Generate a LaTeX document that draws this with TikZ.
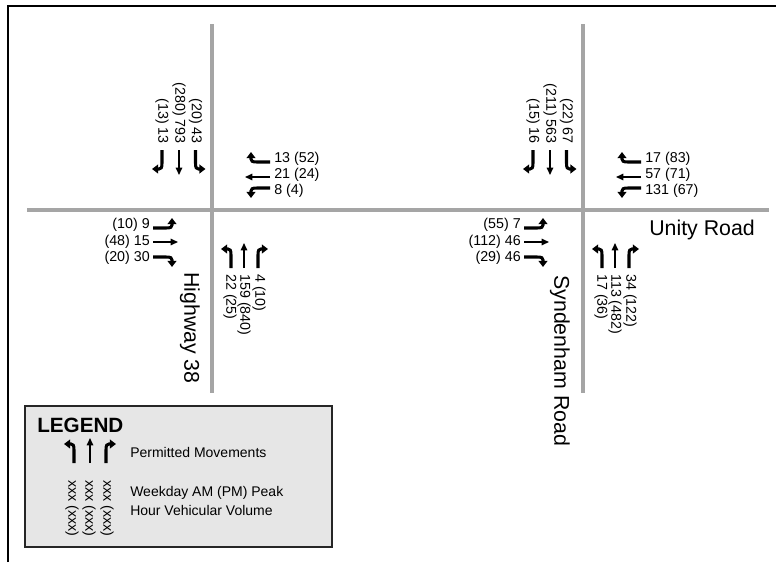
\documentclass[tikz,border=0pt]{standalone}
\usepackage{fontspec}
\setmainfont{Liberation Sans}
\usetikzlibrary{arrows.meta}
\definecolor{roadgray}{HTML}{A5A5A5}
\definecolor{legfill}{HTML}{E6E6E6}
\begin{document}
\begin{tikzpicture}[x=0.75pt,y=-0.75pt,
  road/.style={roadgray, line width=3.3pt},
  thr/.style={line width=1.1pt, -{Triangle[length=5.5pt,width=4.8pt]}},
  trn/.style={line width=2.3pt, -{Triangle[length=4.6pt,width=6.6pt]}},
  num/.style={font=\fontsize{10.7}{12.5}\selectfont, inner sep=0pt},
  vnum/.style={num, rotate=-90},
  rname/.style={font=\fontsize{16}{19}\selectfont, inner sep=0pt},
  legtxt/.style={font=\fontsize{10.5}{12.6}\selectfont, inner sep=0pt},
  pics/thru/.style={code={\draw[thr] (0,0) -- (0,-25);}},
  pics/lturn/.style={code={\draw[trn] (0,0) -- (0,-13) .. controls (0,-18) and (-1,-19) .. (-3,-19) -- (-10,-19);}},
  pics/rturn/.style={code={\draw[trn] (0,0) -- (0,-13) .. controls (0,-18) and (1,-19) .. (3,-19) -- (10,-19);}},
]
\useasboundingbox (0,0) rectangle (776,562);
% frame
\draw[line width=1.5pt] (7.5,562) -- (7.5,5.5) -- (776,5.5);
% roads
\draw[road] (212,24) -- (212,393);
\draw[road] (583,24) -- (583,393);
\draw[road] (27,210) -- (769,210);
% intersections
\foreach \cx/\k/\sa/\sb/\sc/\wa/\wb/\wc/\ea/\eb/\ec/\na/\nb/\nc in {
  212/A/(13) 13/(280) 793/(20) 43/13 (52)/21 (24)/8 (4)/(10) 9/(48) 15/(20) 30/22 (25)/159 (840)/4 (10),
  583/B/(15) 16/(211) 563/(22) 67/17 (83)/57 (71)/131 (67)/(55) 7/(112) 46/(29) 46/17 (36)/113 (482)/34 (122)}{
  % southbound (north leg)
  \pic[rotate=180] at ({\cx-50},150) {rturn};
  \pic[rotate=180] at ({\cx-33},150) {thru};
  \pic[rotate=180] at ({\cx-16.5},150) {lturn};
  \node[vnum, anchor=east] (\k s1) at ({\cx-50},144) {\sa};
  \node[vnum, anchor=east] (\k s2) at ({\cx-33},144) {\sb};
  \node[vnum, anchor=east] (\k s3) at ({\cx-16.5},144) {\sc};
  % westbound (east leg)
  \pic[rotate=90] at ({\cx+58},162) {rturn};
  \pic[rotate=90] at ({\cx+58},177) {thru};
  \pic[rotate=90] at ({\cx+58},188) {lturn};
  \node[num, anchor=west] (\k w1) at ({\cx+62},159) {\wa};
  \node[num, anchor=west] (\k w2) at ({\cx+62},175) {\wb};
  \node[num, anchor=west] (\k w3) at ({\cx+62},191) {\wc};
  % eastbound (west leg)
  \pic[rotate=-90] at ({\cx-59},228) {lturn};
  \pic[rotate=-90] at ({\cx-59},242) {thru};
  \pic[rotate=-90] at ({\cx-59},257) {rturn};
  \node[num, anchor=east] (\k e1) at ({\cx-62},225) {\ea};
  \node[num, anchor=east] (\k e2) at ({\cx-62},242) {\eb};
  \node[num, anchor=east] (\k e3) at ({\cx-62},258) {\ec};
  % northbound (south leg)
  \pic at ({\cx+19},268) {lturn};
  \pic at ({\cx+32},268) {thru};
  \pic at ({\cx+46},268) {rturn};
  \node[vnum, anchor=west] (\k n1) at ({\cx+18},274) {\na};
  \node[vnum, anchor=west] (\k n2) at ({\cx+32},274) {\nb};
  \node[vnum, anchor=west] (\k n3) at ({\cx+47},274) {\nc};
}
% road names
\node[rname, rotate=-90, anchor=west] (hwy) at (190,272) {Highway 38};
\node[rname, rotate=-90, anchor=west] (syd) at (560,275) {Syndenham Road};
\node[rname, anchor=base west] (unity) at (649,235) {Unity Road};
% legend
\draw[line width=1.5pt, draw=black!85, fill=legfill] (25,406) rectangle (332,547);
\node[font=\bfseries\fontsize{15.5}{18}\selectfont, anchor=base west, inner sep=0pt] (leg) at (37,432) {LEGEND};
\pic at (74,463) {lturn};
\pic at (90,463) {thru};
\pic at (106,463) {rturn};
\node[legtxt, anchor=west] (perm) at (130,452) {Permitted Movements};
\node[vnum, anchor=west] (lx1) at (72,480) {xxx (xxx)};
\node[vnum, anchor=west] (lx2) at (89,480) {xxx (xxx)};
\node[vnum, anchor=west] (lx3) at (107,480) {xxx (xxx)};
\node[legtxt, anchor=west] (wk1) at (130,493) {Weekday AM (PM) Peak};
\node[legtxt, anchor=west] (wk2) at (130,510) {Hour Vehicular Volume};
\end{tikzpicture}
\end{document}
